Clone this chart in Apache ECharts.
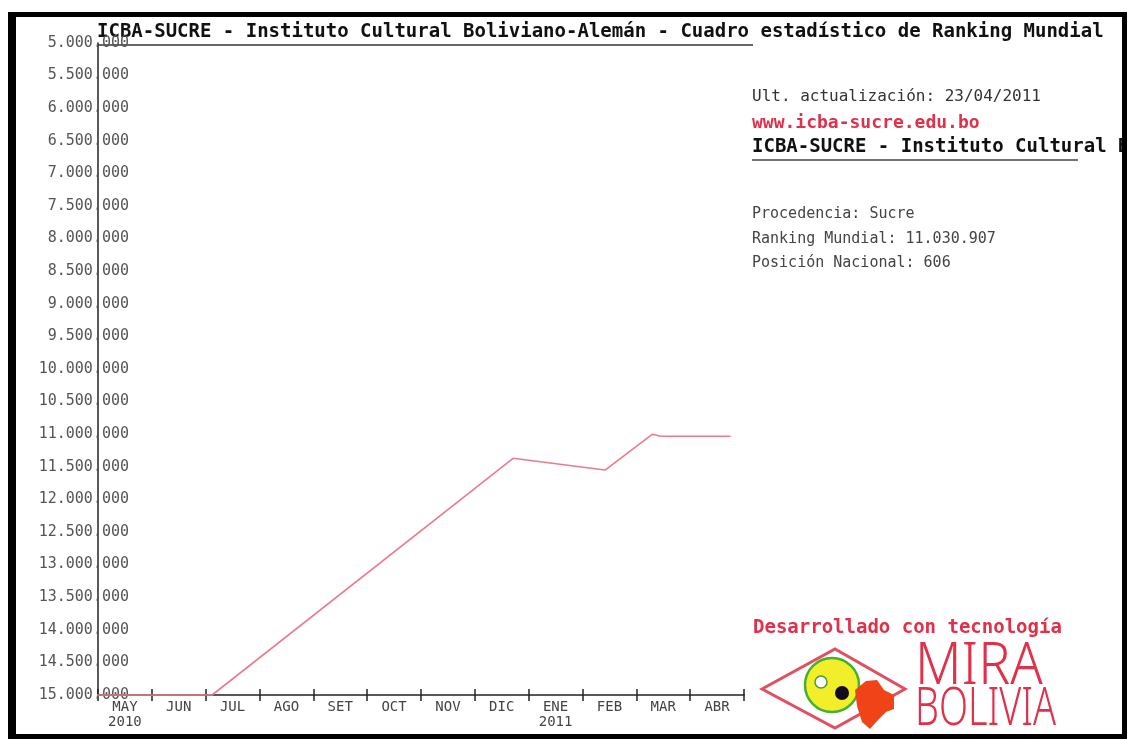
<!DOCTYPE html>
<html>
<head>
<meta charset="utf-8">
<script src="https://cdn.jsdelivr.net/npm/echarts@6/dist/echarts.min.js"></script>
<style>
  html, body { margin: 0; padding: 0; background: #fff; }
  #chart { width: 1130px; height: 739px; }
</style>
</head>
<body>
<div id="chart"></div>
<script>
// month labels along the bottom
const months = ['MAY\n2010', 'JUN', 'JUL', 'AGO', 'SET', 'OCT', 'NOV', 'DIC', 'ENE\n2011', 'FEB', 'MAR', 'ABR'];
// position of each reading, in months from 1 May 2010
const monthPos = [-0.24, 2.12, 7.71, 9.42, 10.30, 10.45, 11.75];
// world ranking at each reading
const ranking = [15000000, 15000000, 11370000, 11550000, 11000000, 11030907, 11030907];

const title = 'ICBA-SUCRE - Instituto Cultural Boliviano-Alemán - Cuadro estadístico de Ranking Mundial';
const infoLines = ['Procedencia: Sucre', 'Ranking Mundial: 11.030.907', 'Posición Nacional: 606'];

const mono = '"DejaVu Sans Mono", "Liberation Mono", monospace';
const red = '#e0304a';

function dots(v) {
  return String(v).replace(/\B(?=(\d{3})+(?!\d))/g, '.');
}

const chart = echarts.init(document.getElementById('chart'));

chart.setOption({
  backgroundColor: '#fff',
  animation: false,
  grid: { left: 98, right: 386, top: 43, bottom: 44 },
  xAxis: [
    {
      type: 'value', min: 0, max: 12, interval: 1,
      axisLine: { show: true, lineStyle: { color: '#222', width: 1.5 } },
      axisTick: { show: true, inside: true, length: 6, lineStyle: { color: '#222', width: 1.5 } },
      axisLabel: { show: false },
      splitLine: { show: false }
    },
    {
      type: 'category', data: months, boundaryGap: true, position: 'bottom',
      axisLine: { show: false },
      axisTick: { show: true, length: 6, lineStyle: { color: '#222', width: 1.5 } },
      axisLabel: { color: '#444', fontFamily: mono, fontSize: 14, lineHeight: 15, margin: 5, interval: 0 },
      splitLine: { show: false }
    }
  ],
  yAxis: {
    type: 'value', inverse: true, min: 5000000, max: 15000000, interval: 500000,
    axisLine: { show: true, lineStyle: { color: '#222', width: 1.5 } },
    axisTick: { show: false },
    splitLine: { show: false },
    axisLabel: {
      color: '#555', fontFamily: mono, fontSize: 15, margin: -31, align: 'right',
      formatter: v => dots(v)
    }
  },
  series: [{
    type: 'line',
    xAxisIndex: 0,
    data: monthPos.map((m, i) => [m, ranking[i]]),
    showSymbol: false,
    clip: false,
    lineStyle: { color: '#e87c8e', width: 1.6 }
  }],
  graphic: { elements: [
    { type: 'text', left: 97, top: 23, style: { text: title, fill: '#111', font: 'bold 19px ' + mono } },
    { type: 'line', shape: { x1: 98, y1: 45, x2: 753, y2: 45 }, style: { stroke: '#333', lineWidth: 1.5 } },

    { type: 'text', left: 752, top: 89, style: { text: 'Ult. actualización: 23/04/2011', fill: '#333', font: '16px ' + mono } },
    { type: 'text', left: 752, top: 114, style: { text: 'www.icba-sucre.edu.bo', fill: red, font: 'bold 18px ' + mono } },
    { type: 'text', left: 752, top: 138, style: { text: 'ICBA-SUCRE - Instituto Cultural Boliviano', fill: '#111', font: 'bold 19px ' + mono } },
    { type: 'line', shape: { x1: 752, y1: 160, x2: 1078, y2: 160 }, style: { stroke: '#444', lineWidth: 1.5 } },
    { type: 'text', left: 752, top: 202, style: { text: infoLines.join('\n'), fill: '#444', font: '15px ' + mono, lineHeight: 24.5 } },

    { type: 'text', left: 753, top: 619, style: { text: 'Desarrollado con tecnología', fill: red, font: 'bold 19px ' + mono } },
    // eye logo
    { type: 'polygon', shape: { points: [[762, 689], [835, 649], [905, 689], [835, 728]] },
      style: { fill: 'none', stroke: '#e05060', lineWidth: 3 } },
    { type: 'circle', shape: { cx: 832, cy: 685, r: 27 }, style: { fill: '#f2ee2a', stroke: '#44b034', lineWidth: 2.5 } },
    { type: 'circle', shape: { cx: 821, cy: 682, r: 6 }, style: { fill: '#fff', stroke: '#44a034', lineWidth: 1.5 } },
    { type: 'circle', shape: { cx: 842, cy: 693, r: 7 }, style: { fill: '#140a20' } },
    { type: 'polygon', shape: { points: [[855, 690], [866, 681], [877, 680], [884, 690], [894, 695], [894, 709], [886, 712], [878, 720], [870, 729], [862, 722], [857, 706]] },
      style: { fill: '#f04418' } },
    { type: 'text', left: 915, top: 638, scaleX: 0.92, style: { text: 'MIRA', fill: red, font: '300 58px "Noto Sans", "DejaVu Sans", sans-serif' } },
    { type: 'text', left: 915, top: 683, scaleX: 0.7, style: { text: 'BOLIVIA', fill: red, font: '300 54px "Noto Sans", "DejaVu Sans", sans-serif' } },

    // outer frame
    { type: 'rect', shape: { x: 1124, y: 0, width: 6, height: 739 }, style: { fill: '#fff' } },
    { type: 'rect', shape: { x: 12, y: 14.5, width: 1112.5, height: 722 }, style: { fill: 'none', stroke: '#000', lineWidth: 5 } },
    { type: 'rect', shape: { x: 8, y: 12, width: 8, height: 727 }, style: { fill: '#000' } }
  ] }
});
</script>
</body>
</html>
